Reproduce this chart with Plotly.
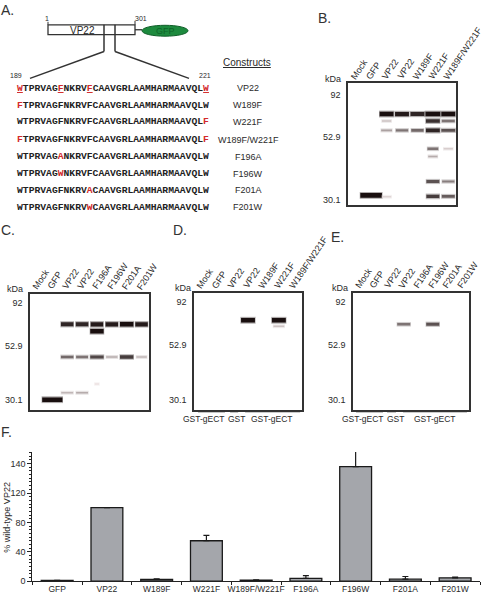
import plotly.graph_objects as go

W, H = 483, 599
def px(x): return x / W
def py(y): return 1 - y / H

# ---------------- Panel F data ----------------
f_categories = ["GFP", "VP22", "W189F", "W221F", "W189F/W221F", "F196A", "F196W", "F201A", "F201W"]
f_values = [0.9, 100, 2.2, 55, 1.3, 3.6, 156, 2.7, 4.5]
f_err_plus = [0, 0, 0.9, 7.4, 0.5, 4.0, 21, 3.6, 0.9]
f_tickvals = [0, 40, 80, 120, 160]
f_ticktext = ["0", "40", "80", "120", "140"]

# ---------------- Panel A data ----------------
seq_wt = "WTPRVAGFNKRVFCAAVGRLAAMHARMAAVQLW"
construct_names = ["VP22", "W189F", "W221F", "W189F/W221F", "F196A", "F196W", "F201A", "F201W"]
construct_mutations = [
    {0: "W", 7: "F", 12: "F", 32: "W"},
    {0: "F"},
    {32: "F"},
    {0: "F", 32: "F"},
    {7: "A"},
    {7: "W"},
    {12: "A"},
    {12: "W"},
]

# ---------------- Blot data ----------------
lanes_w = ["Mock", "GFP", "VP22", "VP22", "W189F", "W221F", "W189F/W221F"]
lanes_f = ["Mock", "GFP", "VP22", "VP22", "F196A", "F196W", "F201A", "F201W"]
ladder_kda = ["92", "52.9", "30.1"]
ladder_pos_b = [0.098, 0.439, 0.959]
ladder_pos_cde = [0.08, 0.45, 0.915]
# (lane, relative migration, intensity, half-width in lanes)
bands_b = [
    (1, 0.919, 1.0, 0.70),
    (2, 0.252, 1.0, 0.45), (3, 0.252, 0.95, 0.45), (4, 0.252, 0.9, 0.45),
    (5, 0.252, 1.0, 0.48), (6, 0.252, 1.0, 0.45),
    (2, 0.309, 0.2, 0.3), (2, 0.386, 0.35, 0.35), (3, 0.386, 0.55, 0.4), (4, 0.386, 0.6, 0.4),
    (5, 0.309, 0.85, 0.45), (5, 0.386, 0.9, 0.45), (5, 0.537, 0.55, 0.35), (5, 0.60, 0.3, 0.3),
    (5, 0.805, 0.7, 0.42), (5, 0.927, 0.8, 0.42),
    (6, 0.309, 0.55, 0.42), (6, 0.386, 0.7, 0.45), (6, 0.537, 0.15, 0.3),
    (6, 0.805, 0.5, 0.4), (6, 0.927, 0.65, 0.42),
    (2, 0.93, 0.12, 0.3),
]
bands_c = [
    (1, 0.915, 1.0, 0.68),
    (2, 0.265, 0.9, 0.42), (3, 0.265, 0.9, 0.42), (4, 0.265, 0.95, 0.42),
    (5, 0.265, 0.95, 0.42), (6, 0.265, 1.0, 0.45), (7, 0.265, 0.95, 0.42),
    (4, 0.325, 1.0, 0.45),
    (2, 0.547, 0.6, 0.42), (3, 0.547, 0.55, 0.4), (4, 0.547, 0.75, 0.45),
    (5, 0.547, 0.3, 0.38), (6, 0.547, 0.8, 0.45), (7, 0.547, 0.25, 0.35),
    (2, 0.855, 0.25, 0.4), (3, 0.855, 0.3, 0.4),
    (4, 0.78, 0.06, 0.15),
]
bands_d = [(3, 0.237, 1.0, 0.45), (5, 0.237, 1.0, 0.45), (5, 0.288, 0.2, 0.35)]
bands_e = [(3, 0.271, 0.55, 0.45), (5, 0.271, 0.7, 0.45)]
# (line start lane, line end lane, label centre lane, label)
groups_d = [(-0.24, 1.51, 0.15, "GST-gECT"), (1.84, 2.36, 2.23, "GST"), (2.81, 6.38, 4.56, "GST-gECT")]
groups_e = [(-0.29, 1.57, 0.19, "GST-gECT"), (1.84, 2.47, 2.40, "GST"), (2.95, 7.36, 5.16, "GST-gECT")]

FONT = "Liberation Sans, Arial, sans-serif"
TXT = "#2a2a2a"

fig = go.Figure()
annotations = []
shapes = []

def ann(text, x, y, size=9, xanchor="center", yanchor="middle", angle=0, family=FONT,
        color=TXT, xref="paper", yref="paper", xshift=0, yshift=0):
    annotations.append(dict(text=text, x=x, y=y, xref=xref, yref=yref, showarrow=False,
                            xanchor=xanchor, yanchor=yanchor, textangle=angle,
                            font=dict(family=family, size=size, color=color),
                            borderpad=0, xshift=xshift, yshift=yshift))

# ---------------- Panel F ----------------
fig.add_trace(go.Bar(
    x=f_categories, y=f_values, xaxis="x", yaxis="y",
    marker=dict(color="#a4a6ab", line=dict(color="#1a1a1a", width=1.3)),
    error_y=dict(type="data", array=f_err_plus, arrayminus=[0] * len(f_err_plus),
                 symmetric=False, color="#1a1a1a", thickness=1.2, width=3),
    cliponaxis=False, hoverinfo="skip"))

# ---------------- Blots ----------------
def add_blot(idx, bands, lanes, dom_x, dom_y, ladder_pos, kda_xy, groups=None):
    xa, ya = f"x{idx}", f"y{idx}"
    for lane, mig, inten, hw in bands:
        g = int(245 - 225 * inten)
        color = f"rgb({g + 5},{max(g - 5, 0)},{max(g - 5, 0)})"
        width = 1.4 + 3.2 * inten ** 2
        # soft halo imitating the film's blur
        fig.add_trace(go.Scatter(x=[lane - hw - 0.04, lane + hw + 0.04], y=[mig, mig],
                                 xaxis=xa, yaxis=ya, mode="lines", opacity=0.35,
                                 line=dict(color=color, width=width + 2.2), hoverinfo="skip"))
        fig.add_trace(go.Scatter(x=[lane - hw, lane + hw], y=[mig, mig], xaxis=xa, yaxis=ya,
                                 mode="lines", line=dict(color=color, width=width),
                                 hoverinfo="skip"))
    n = len(lanes)
    common = dict(showline=True, linecolor="#333", linewidth=1.5, mirror=True,
                  showgrid=False, zeroline=False)
    fig.layout[f"xaxis{idx}"] = dict(domain=[px(dom_x[0]), px(dom_x[1])], range=[-0.5, n - 0.5],
                                     anchor=ya, showticklabels=False, ticks="", **common)
    fig.layout[f"yaxis{idx}"] = dict(domain=[py(dom_y[1]), py(dom_y[0])], range=[1, 0],
                                     anchor=xa, tickvals=ladder_pos, ticktext=ladder_kda,
                                     ticks="", ticklabelstandoff=4,
                                     tickfont=dict(family=FONT, size=9, color=TXT), **common)
    for i, name in enumerate(lanes):
        ann(name, i, py(dom_y[0] - 1), size=9, xanchor="left", yanchor="bottom", angle=-56,
            xref=xa, xshift=-8)
    ann("kDa", px(kda_xy[0]), py(kda_xy[1]), size=9)
    if groups:
        for x0, x1, xl, label in groups:
            shapes.append(dict(type="line", xref=xa, yref="paper", x0=x0, x1=x1,
                               y0=py(dom_y[1] + 2), y1=py(dom_y[1] + 2),
                               line=dict(color="#333", width=1.5)))
            ann(label, xl, py(dom_y[1] + 10), size=8.5, xref=xa)

add_blot(2, bands_b, lanes_w, (348, 456), (84, 207), ladder_pos_b, (333, 80))
add_blot(3, bands_c, lanes_f, (30, 149), (296, 413), ladder_pos_cde, (15, 291))
add_blot(4, bands_d, lanes_w, (194, 302), (295, 413), ladder_pos_cde, (183, 290), groups_d)
add_blot(5, bands_e, lanes_f, (353, 469), (295, 413), ladder_pos_cde, (340, 290), groups_e)

# ---------------- Panel A diagram ----------------
line_col = "#333"
shapes += [
    dict(type="rect", xref="paper", yref="paper", x0=px(48), x1=px(135), y0=py(35), y1=py(25),
         line=dict(color=line_col, width=1.3)),
    dict(type="line", xref="paper", yref="paper", x0=px(104), x1=px(104), y0=py(25), y1=py(52),
         line=dict(color=line_col, width=1.5)),
    dict(type="line", xref="paper", yref="paper", x0=px(115), x1=px(115), y0=py(25), y1=py(52),
         line=dict(color=line_col, width=1.5)),
    dict(type="line", xref="paper", yref="paper", x0=px(104), x1=px(30), y0=py(52), y1=py(79),
         line=dict(color=line_col, width=1.5)),
    dict(type="line", xref="paper", yref="paper", x0=px(115), x1=px(189), y0=py(52), y1=py(79),
         line=dict(color=line_col, width=1.5)),
    dict(type="line", xref="paper", yref="paper", x0=px(135), x1=px(142), y0=py(30), y1=py(30),
         line=dict(color=line_col, width=1.3)),
    dict(type="line", xref="paper", yref="paper", x0=px(48), x1=px(48), y0=py(22), y1=py(25),
         line=dict(color=line_col, width=1)),
    dict(type="line", xref="paper", yref="paper", x0=px(135), x1=px(135), y0=py(21), y1=py(25),
         line=dict(color=line_col, width=1)),
    dict(type="circle", xref="paper", yref="paper", x0=px(142), x1=px(188), y0=py(36.5), y1=py(25.5),
         fillcolor="#1d8a3e", line=dict(color="#0f5e28", width=1)),
]
ann("1", px(47), py(19), size=7)
ann("301", px(141), py(19), size=7)
ann("VP22", px(82), py(30.5), size=10)
ann("GFP", px(165), py(31), size=9, color="#0d6428")
ann("189", px(16), py(76), size=7)
ann("221", px(205), py(76), size=7)
ann("<u>Constructs</u>", px(247), py(63), size=10)

seq_y = [89, 106, 123, 141, 158, 175, 192, 209]
for name, muts, yy in zip(construct_names, construct_mutations, seq_y):
    parts = []
    for i, ch in enumerate(seq_wt):
        if i in muts:
            r = muts[i]
            if name == "VP22":
                parts.append(f'<span style="color:#d32a2a"><u>{r}</u></span>')
            else:
                parts.append(f'<span style="color:#d32a2a">{r}</span>')
        else:
            parts.append(ch)
    ann("<b>" + "".join(parts) + "</b>", px(16), py(yy), size=9.7, xanchor="left",
        family="Liberation Mono", color="#222")
    ann(name, px(248), py(yy), size=9)

# ---------------- Panel letters ----------------
for letter, (lx, ly) in {"A.": (0, 10), "B.": (317, 18), "C.": (0, 232), "D.": (172, 232),
                         "E.": (330, 239), "F.": (0, 436)}.items():
    ann(letter, px(lx), py(ly), size=14, xanchor="left", color="#333")

ann("% wild-type VP22", px(7), py(522), size=9, angle=-90)

fig.update_layout(
    width=W, height=H, margin=dict(l=0, r=0, t=0, b=0),
    paper_bgcolor="white", plot_bgcolor="white", showlegend=False,
    bargap=0.36,
    xaxis=dict(domain=[px(32.3), px(480)], anchor="y", showline=True, linecolor="#222",
               linewidth=1, ticks="outside", ticklen=3, tickson="boundaries", tickcolor="#222",
               tickangle=0, tickfont=dict(family=FONT, size=8.5, color=TXT),
               showgrid=False, zeroline=False),
    yaxis=dict(domain=[py(586), py(455.7)], anchor="x", range=[0, 176], showline=True,
               linecolor="#222", linewidth=1, ticks="outside", ticklen=4, tickcolor="#222",
               tickvals=f_tickvals, ticktext=f_ticktext,
               tickfont=dict(family=FONT, size=9, color=TXT), showgrid=False, zeroline=False,
               minor=dict(dtick=5, ticks="outside", ticklen=2, tickcolor="#222")),
    annotations=annotations, shapes=shapes,
)

fig.write_html("out.html", config={"displayModeBar": False},
               post_script="document.body.style.margin='0';document.body.style.overflow='hidden';")
